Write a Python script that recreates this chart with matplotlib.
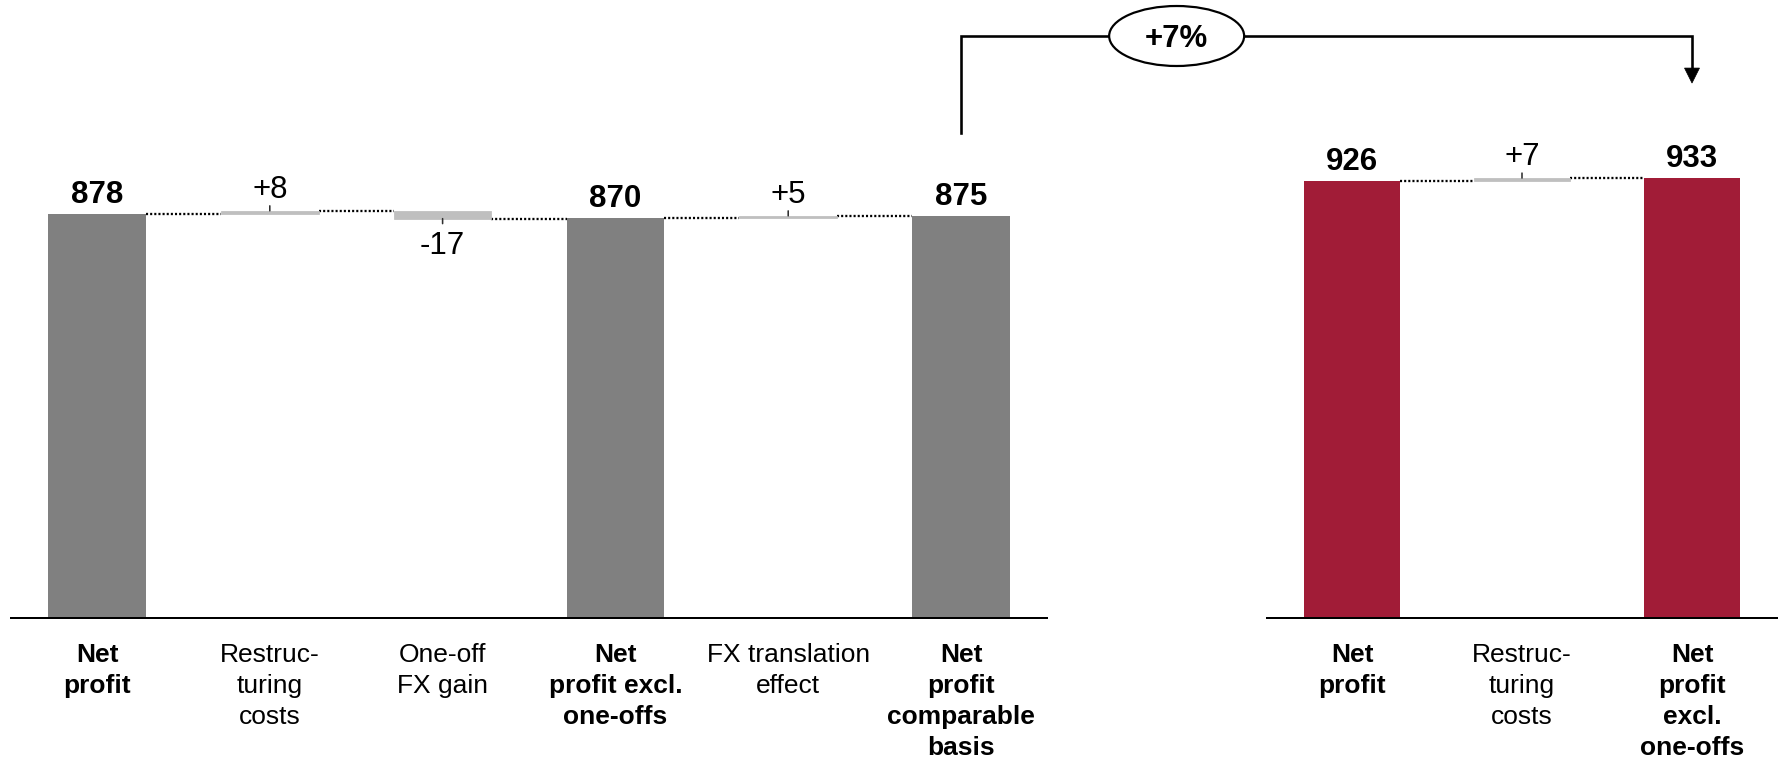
import matplotlib
matplotlib.use("Agg")
import matplotlib.pyplot as plt
from matplotlib.patches import Ellipse, Polygon
from matplotlib.lines import Line2D
from matplotlib.transforms import IdentityTransform

plt.rcParams['font.family'] = ['Liberation Sans', 'DejaVu Sans']

# ---- data -------------------------------------------------------------
left_categories = ["Net\nprofit", "Restruc-\nturing\ncosts", "One-off\nFX gain",
                   "Net\nprofit excl.\none-offs", "FX translation\neffect",
                   "Net\nprofit\ncomparable\nbasis"]
left_values = [878, 8, -17, 870, 5, 875]
left_is_total = [True, False, False, True, False, True]

right_categories = ["Net\nprofit", "Restruc-\nturing\ncosts",
                    "Net\nprofit\nexcl.\none-offs"]
right_values = [926, 7, 933]
right_is_total = [True, False, True]

growth_label = "+7%"

# ---- style ------------------------------------------------------------
W, H, DPI = 1785, 764, 100
TOTAL_GRAY = "#808080"
DELTA_GRAY = "#BFBFBF"
CRIMSON = "#A11C37"
BAR_W = 0.565
LABEL_PT = 19.0
VALUE_PT = 22.5
LINE_PT = 1.44


def pt(pixels):
    return pixels * 72.0 / DPI


fig = plt.figure(figsize=(W / DPI, H / DPI), dpi=DPI)
ax_l = fig.add_axes([10.6 / W, 146.5 / H, 1036.8 / W, 459 / H])
ax_r = fig.add_axes([1267 / W, 146.5 / H, 510 / W, 471 / H])


def waterfall(ax, cats, vals, totals, total_color):
    n = len(vals)
    level = 0
    ends = []
    for i, (v, is_total) in enumerate(zip(vals, totals)):
        if is_total:
            ax.bar(i, v, width=BAR_W, color=total_color, zorder=2, linewidth=0)
            ax.annotate(f"{v}", (i, v), xytext=(0, 11), textcoords="offset pixels",
                        ha="center", va="baseline", fontsize=VALUE_PT,
                        fontweight="bold", annotation_clip=False)
            level = v
        else:
            start = level
            level = start + v
            ax.bar(i, v, bottom=start, width=BAR_W, color=DELTA_GRAY, zorder=2,
                   edgecolor=DELTA_GRAY, linewidth=pt(0.8))
            sign = 1 if v > 0 else -1
            edge = max(start, level) if v > 0 else min(start, level)
            # small tick marking the label anchor
            ax.annotate("", xy=(i, edge), xytext=(0, sign * 5),
                        textcoords="offset pixels", annotation_clip=False,
                        arrowprops=dict(arrowstyle="-", color="#303030",
                                        lw=pt(1.6), shrinkA=0, shrinkB=0))
            if v > 0:
                ax.annotate(f"+{v}", (i, edge), xytext=(0, 13),
                            textcoords="offset pixels", ha="center",
                            va="baseline", fontsize=VALUE_PT,
                            annotation_clip=False)
            else:
                ax.annotate(f"-{abs(v)}", (i, edge), xytext=(0, -12),
                            textcoords="offset pixels", ha="center", va="top",
                            fontsize=VALUE_PT, annotation_clip=False)
        ends.append(level)

    # dotted connectors between consecutive bars
    for i in range(n - 1):
        ax.plot([i + BAR_W / 2, i + 1 - BAR_W / 2], [ends[i], ends[i]],
                color="black", lw=pt(2.3), linestyle=(0, (0.9, 0.9)), zorder=1,
                solid_capstyle="butt", dash_capstyle="butt")

    ax.set_xlim(-0.5, n - 0.5)
    ax.set_ylim(0, 1000)
    for side in ("top", "right", "left"):
        ax.spines[side].set_visible(False)
    ax.spines["bottom"].set_linewidth(LINE_PT)
    ax.spines["bottom"].set_color("black")
    ax.set_yticks([])
    ax.set_xticks(range(n))
    ax.set_xticklabels(cats, fontsize=LABEL_PT)
    ax.tick_params(axis="x", length=0, pad=18)
    for lab, is_total in zip(ax.get_xticklabels(), totals):
        lab.set_linespacing(1.38)
        lab.set_multialignment("center")
        if is_total:
            lab.set_fontweight("bold")
    ax.patch.set_alpha(0)


waterfall(ax_l, left_categories, left_values, left_is_total, TOTAL_GRAY)
waterfall(ax_r, right_categories, right_values, right_is_total, CRIMSON)

# ---- growth bracket from comparable basis to excl. one-offs -------------
x_start, y_base = ax_l.transData.transform((len(left_values) - 1, left_values[-1]))
x_end, y_base2 = ax_r.transData.transform((len(right_values) - 1, right_values[-1]))
y_start = y_base + 83
y_top = H - 36
y_tip = y_base2 + 95
head_w, head_h = 15, 15
lw_bracket = pt(2.6)

fig.add_artist(Line2D([x_start, x_start, x_end, x_end],
                      [y_start, y_top, y_top, y_tip + head_h],
                      transform=IdentityTransform(), color="black",
                      lw=lw_bracket, solid_joinstyle="miter", zorder=5))
fig.add_artist(Polygon([[x_end - head_w / 2, y_tip + head_h],
                        [x_end + head_w / 2, y_tip + head_h],
                        [x_end, y_tip]], closed=True,
                       transform=IdentityTransform(), facecolor="black",
                       edgecolor="black", lw=0.5, zorder=5))

cx = x_start + 0.295 * (x_end - x_start)
fig.add_artist(Ellipse((cx, y_top), 135, 60, transform=IdentityTransform(),
                       facecolor="white", edgecolor="black", lw=pt(2.2),
                       zorder=6))
fig.text(cx, y_top - 11, growth_label, transform=IdentityTransform(),
         ha="center", va="baseline", fontsize=VALUE_PT, fontweight="bold",
         zorder=7)

fig.savefig("out.png", dpi=DPI, facecolor="white")
